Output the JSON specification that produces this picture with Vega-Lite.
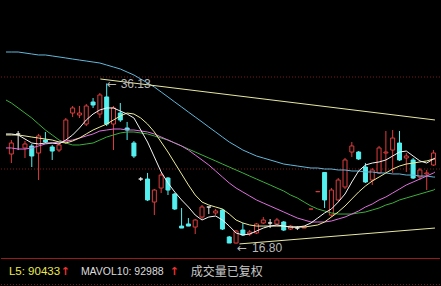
{
  "$schema": "https://vega.github.io/schema/vega-lite/v6.json",
  "width": 441,
  "height": 286,
  "autosize": {"type": "fit", "contains": "padding"},
  "padding": 0,
  "background": "#000000",
  "config": {"view": {"stroke": null}},
  "datasets": {
    "candles": [
      {"i":0,"open":27.61,"close":28.94,"high":29.30,"low":26.52},
      {"i":1,"open":30.03,"close":30.03,"high":30.39,"low":28.09},
      {"i":2,"open":28.34,"close":28.82,"high":29.18,"low":27.13},
      {"i":3,"open":28.58,"close":27.37,"high":28.82,"low":26.04},
      {"i":4,"open":27.73,"close":29.79,"high":30.03,"low":24.47},
      {"i":5,"open":29.30,"close":29.06,"high":30.27,"low":28.94},
      {"i":6,"open":28.46,"close":27.97,"high":28.70,"low":26.89},
      {"i":7,"open":28.09,"close":28.70,"high":28.94,"low":27.85},
      {"i":8,"open":29.06,"close":31.72,"high":31.96,"low":28.82},
      {"i":9,"open":32.56,"close":33.17,"high":33.41,"low":32.08},
      {"i":10,"open":32.32,"close":32.56,"high":33.41,"low":31.96},
      {"i":11,"open":31.23,"close":33.41,"high":33.65,"low":30.99},
      {"i":12,"open":33.89,"close":33.53,"high":34.37,"low":33.17},
      {"i":13,"open":32.44,"close":34.74,"high":34.98,"low":31.96},
      {"i":14,"open":34.50,"close":31.23,"high":36.13,"low":30.99},
      {"i":15,"open":31.23,"close":33.17,"high":33.41,"low":28.09},
      {"i":16,"open":32.56,"close":31.72,"high":33.77,"low":31.48},
      {"i":17,"open":30.75,"close":30.51,"high":31.48,"low":29.30},
      {"i":18,"open":28.94,"close":27.37,"high":29.18,"low":27.13},
      {"i":19,"open":24.59,"close":24.59,"high":24.83,"low":24.35},
      {"i":20,"open":24.59,"close":22.06,"high":25.32,"low":21.93},
      {"i":21,"open":21.81,"close":23.26,"high":23.38,"low":20.24},
      {"i":22,"open":23.50,"close":25.07,"high":25.32,"low":22.90},
      {"i":23,"open":24.71,"close":23.26,"high":24.83,"low":22.66},
      {"i":24,"open":22.78,"close":20.97,"high":22.90,"low":20.85},
      {"i":25,"open":18.91,"close":18.67,"high":21.09,"low":18.67},
      {"i":26,"open":19.16,"close":18.91,"high":19.88,"low":18.91},
      {"i":27,"open":18.79,"close":19.64,"high":19.76,"low":17.95},
      {"i":28,"open":20.00,"close":21.21,"high":21.45,"low":19.76},
      {"i":29,"open":21.21,"close":21.21,"high":21.21,"low":20.36},
      {"i":30,"open":20.49,"close":20.73,"high":20.97,"low":20.24},
      {"i":31,"open":20.85,"close":18.55,"high":20.97,"low":18.43},
      {"i":32,"open":17.59,"close":16.86,"high":17.71,"low":16.86},
      {"i":33,"open":16.86,"close":18.31,"high":18.43,"low":16.80},
      {"i":34,"open":18.43,"close":17.83,"high":19.28,"low":17.71},
      {"i":35,"open":17.95,"close":18.19,"high":18.43,"low":17.71},
      {"i":36,"open":18.07,"close":19.16,"high":19.28,"low":17.95},
      {"i":37,"open":19.28,"close":19.64,"high":20.00,"low":19.16},
      {"i":38,"open":19.28,"close":19.28,"high":19.76,"low":18.67},
      {"i":39,"open":19.16,"close":19.64,"high":19.88,"low":19.04},
      {"i":40,"open":19.40,"close":18.43,"high":19.52,"low":18.31},
      {"i":41,"open":18.55,"close":18.91,"high":19.04,"low":18.43},
      {"i":42,"open":18.67,"close":18.67,"high":18.91,"low":18.43},
      {"i":43,"open":18.67,"close":18.79,"high":18.91,"low":18.67},
      {"i":44,"open":20.96,"close":20.97,"high":20.97,"low":20.96},
      {"i":45,"open":23.06,"close":23.07,"high":23.07,"low":23.06},
      {"i":46,"open":25.38,"close":22.06,"high":25.38,"low":21.09},
      {"i":47,"open":20.24,"close":23.26,"high":23.50,"low":20.00},
      {"i":48,"open":22.06,"close":24.47,"high":24.71,"low":21.93},
      {"i":49,"open":23.63,"close":26.89,"high":27.13,"low":23.38},
      {"i":50,"open":27.85,"close":28.58,"high":29.06,"low":27.25},
      {"i":51,"open":27.85,"close":27.01,"high":27.97,"low":26.89},
      {"i":52,"open":26.04,"close":24.23,"high":26.52,"low":24.11},
      {"i":53,"open":24.47,"close":25.68,"high":25.92,"low":23.87},
      {"i":54,"open":25.32,"close":28.34,"high":28.58,"low":25.20},
      {"i":55,"open":27.73,"close":27.85,"high":30.39,"low":25.44},
      {"i":56,"open":28.09,"close":29.54,"high":30.51,"low":25.32},
      {"i":57,"open":28.94,"close":26.89,"high":30.39,"low":26.77},
      {"i":58,"open":27.13,"close":27.37,"high":27.73,"low":25.44},
      {"i":59,"open":26.89,"close":24.71,"high":27.13,"low":24.59},
      {"i":60,"open":24.83,"close":25.68,"high":25.92,"low":24.47},
      {"i":61,"open":25.20,"close":25.32,"high":25.68,"low":23.26},
      {"i":62,"open":26.28,"close":27.73,"high":28.09,"low":26.16}
    ],
    "ma": [
      {"i":-0.79,"MA5":30.03,"MA10":29.91,"MA20":28.34,"MA30":34.13,"MA60":39.93},
      {"i":0,"MA5":30.03,"MA10":29.91,"MA20":28.34,"MA30":33.77,"MA60":39.93},
      {"i":1,"MA5":29.91,"MA10":29.91,"MA20":28.21,"MA30":33.17,"MA60":39.93},
      {"i":2,"MA5":29.42,"MA10":29.79,"MA20":28.21,"MA30":32.56,"MA60":39.81},
      {"i":3,"MA5":28.94,"MA10":29.66,"MA20":28.34,"MA30":31.96,"MA60":39.69},
      {"i":4,"MA5":28.82,"MA10":29.54,"MA20":28.58,"MA30":31.23,"MA60":39.57},
      {"i":5,"MA5":28.94,"MA10":29.42,"MA20":28.82,"MA30":30.51,"MA60":39.57},
      {"i":6,"MA5":28.94,"MA10":29.30,"MA20":28.94,"MA30":29.91,"MA60":39.45},
      {"i":7,"MA5":28.82,"MA10":29.06,"MA20":29.06,"MA30":29.30,"MA60":39.33},
      {"i":8,"MA5":29.30,"MA10":28.94,"MA20":29.18,"MA30":28.94,"MA60":39.21},
      {"i":9,"MA5":29.91,"MA10":29.18,"MA20":29.30,"MA30":28.70,"MA60":39.08},
      {"i":10,"MA5":30.75,"MA10":29.54,"MA20":29.54,"MA30":28.70,"MA60":38.96},
      {"i":11,"MA5":31.72,"MA10":30.03,"MA20":29.79,"MA30":28.82,"MA60":38.84},
      {"i":12,"MA5":32.44,"MA10":30.51,"MA20":30.03,"MA30":28.94,"MA60":38.72},
      {"i":13,"MA5":32.93,"MA10":30.87,"MA20":30.39,"MA30":29.30,"MA60":38.60},
      {"i":14,"MA5":33.17,"MA10":31.23,"MA20":30.51,"MA30":29.66,"MA60":38.36},
      {"i":15,"MA5":33.17,"MA10":31.72,"MA20":30.63,"MA30":29.91,"MA60":38.12},
      {"i":16,"MA5":32.80,"MA10":32.20,"MA20":30.63,"MA30":30.15,"MA60":37.88},
      {"i":17,"MA5":32.44,"MA10":32.56,"MA20":30.51,"MA30":30.27,"MA60":37.51},
      {"i":18,"MA5":31.96,"MA10":32.44,"MA20":30.51,"MA30":30.27,"MA60":37.15},
      {"i":19,"MA5":30.51,"MA10":31.96,"MA20":30.39,"MA30":30.15,"MA60":36.67},
      {"i":20,"MA5":29.06,"MA10":31.23,"MA20":30.27,"MA30":30.03,"MA60":36.19},
      {"i":21,"MA5":27.25,"MA10":30.27,"MA20":30.03,"MA30":29.79,"MA60":35.70},
      {"i":22,"MA5":25.44,"MA10":29.06,"MA20":29.66,"MA30":29.54,"MA60":35.10},
      {"i":23,"MA5":24.11,"MA10":27.85,"MA20":29.30,"MA30":29.30,"MA60":34.50},
      {"i":24,"MA5":23.02,"MA10":26.52,"MA20":28.94,"MA30":28.94,"MA60":33.89},
      {"i":25,"MA5":22.06,"MA10":25.20,"MA20":28.58,"MA30":28.58,"MA60":33.29},
      {"i":26,"MA5":21.21,"MA10":23.87,"MA20":28.09,"MA30":28.21,"MA60":32.68},
      {"i":27,"MA5":20.24,"MA10":22.66,"MA20":27.49,"MA30":27.85,"MA60":32.08},
      {"i":28,"MA5":19.64,"MA10":21.81,"MA20":26.89,"MA30":27.49,"MA60":31.48},
      {"i":29,"MA5":20.00,"MA10":21.45,"MA20":26.28,"MA30":27.13,"MA60":30.87},
      {"i":30,"MA5":20.12,"MA10":21.21,"MA20":25.56,"MA30":26.77,"MA60":30.27},
      {"i":31,"MA5":19.64,"MA10":20.97,"MA20":24.83,"MA30":26.40,"MA60":29.66},
      {"i":32,"MA5":18.91,"MA10":20.36,"MA20":24.11,"MA30":26.04,"MA60":29.06},
      {"i":33,"MA5":18.07,"MA10":19.64,"MA20":23.50,"MA30":25.68,"MA60":28.58},
      {"i":34,"MA5":17.83,"MA10":19.28,"MA20":23.02,"MA30":25.32,"MA60":28.09},
      {"i":35,"MA5":17.95,"MA10":19.04,"MA20":22.54,"MA30":24.95,"MA60":27.73},
      {"i":36,"MA5":18.31,"MA10":18.91,"MA20":22.06,"MA30":24.59,"MA60":27.37},
      {"i":37,"MA5":18.67,"MA10":18.91,"MA20":21.69,"MA30":24.23,"MA60":27.13},
      {"i":38,"MA5":18.91,"MA10":18.91,"MA20":21.33,"MA30":23.87,"MA60":26.89},
      {"i":39,"MA5":19.04,"MA10":18.91,"MA20":20.97,"MA30":23.50,"MA60":26.65},
      {"i":40,"MA5":18.91,"MA10":18.91,"MA20":20.61,"MA30":23.14,"MA60":26.40},
      {"i":41,"MA5":18.79,"MA10":18.79,"MA20":20.24,"MA30":22.66,"MA60":26.28},
      {"i":42,"MA5":18.79,"MA10":18.79,"MA20":19.88,"MA30":22.30,"MA60":26.16},
      {"i":43,"MA5":18.91,"MA10":18.79,"MA20":19.64,"MA30":21.81,"MA60":26.04},
      {"i":44,"MA5":19.28,"MA10":18.91,"MA20":19.40,"MA30":21.33,"MA60":25.92},
      {"i":45,"MA5":19.88,"MA10":19.04,"MA20":19.40,"MA30":20.97,"MA60":25.92},
      {"i":46,"MA5":20.49,"MA10":19.40,"MA20":19.40,"MA30":20.73,"MA60":25.80},
      {"i":47,"MA5":20.97,"MA10":20.00,"MA20":19.52,"MA30":20.49,"MA60":25.80},
      {"i":48,"MA5":21.81,"MA10":20.61,"MA20":19.76,"MA30":20.36,"MA60":25.68},
      {"i":49,"MA5":22.78,"MA10":21.33,"MA20":20.00,"MA30":20.36,"MA60":25.68},
      {"i":50,"MA5":24.23,"MA10":22.18,"MA20":20.36,"MA30":20.36,"MA60":25.56},
      {"i":51,"MA5":25.56,"MA10":23.02,"MA20":20.73,"MA30":20.49,"MA60":25.56},
      {"i":52,"MA5":26.28,"MA10":23.75,"MA20":21.21,"MA30":20.61,"MA60":25.44},
      {"i":53,"MA5":26.52,"MA10":24.35,"MA20":21.57,"MA30":20.85,"MA60":25.44},
      {"i":54,"MA5":26.65,"MA10":24.83,"MA20":22.06,"MA30":21.09,"MA60":25.32},
      {"i":55,"MA5":26.89,"MA10":25.32,"MA20":22.42,"MA30":21.45,"MA60":25.32},
      {"i":56,"MA5":27.37,"MA10":25.80,"MA20":22.90,"MA30":21.69,"MA60":25.20},
      {"i":57,"MA5":27.85,"MA10":26.16,"MA20":23.38,"MA30":22.06,"MA60":25.20},
      {"i":58,"MA5":27.97,"MA10":26.40,"MA20":23.87,"MA30":22.30,"MA60":25.07},
      {"i":59,"MA5":27.37,"MA10":26.52,"MA20":24.23,"MA30":22.54,"MA60":25.07},
      {"i":60,"MA5":26.77,"MA10":26.65,"MA20":24.59,"MA30":22.78,"MA60":24.95},
      {"i":61,"MA5":26.52,"MA10":26.77,"MA20":24.95,"MA30":23.02,"MA60":24.95},
      {"i":62,"MA5":27.01,"MA10":27.01,"MA20":25.32,"MA30":23.26,"MA60":24.83},
      {"i":62.21,"MA5":27.13,"MA10":27.01,"MA20":25.44,"MA30":23.38,"MA60":24.83}
    ],
    "trend": [
      {"seg":"resistance","i":13.07,"v":36.67},
      {"seg":"resistance","i":62.21,"v":31.72},
      {"seg":"support","i":33.5,"v":16.75},
      {"seg":"support","i":62.21,"v":18.67}
    ],
    "status": [{}]
  },
  "layer": [
    {
      "data": {"values": [{"v": 36.91}, {"v": 25.80}, {"v": 11.85}]},
      "mark": {"type": "rule", "color": "#7a1818", "strokeWidth": 1, "strokeDash": [1, 2]},
      "encoding": {
        "y": {"field": "v", "type": "quantitative", "axis": null, "scale": {"domain": [11.67, 46.21], "nice": false, "zero": false}}
      }
    },
    {
      "data": {"values": [{"v": 14.99}]},
      "mark": {"type": "rule", "color": "#9a1a1a", "strokeWidth": 1},
      "encoding": {
        "y": {"field": "v", "type": "quantitative", "axis": null, "scale": {"domain": [11.67, 46.21], "nice": false, "zero": false}}
      }
    },
    {
      "data": {"name": "candles"},
      "mark": {"type": "rule", "strokeWidth": 1},
      "encoding": {
        "x": {"field": "i", "type": "quantitative", "axis": null, "scale": {"domain": [-0.7857, 62.2143], "nice": false, "zero": false}},
        "y": {"field": "low", "type": "quantitative", "axis": null, "scale": {"domain": [11.67, 46.21], "nice": false, "zero": false}},
        "y2": {"field": "high"},
        "color": {
          "condition": [
            {"test": "datum.close > datum.open", "value": "#e03c3c"},
            {"test": "datum.close < datum.open", "value": "#54f0f0"}
          ],
          "value": "#e8e8e8"
        }
      }
    },
    {
      "data": {"name": "candles"},
      "mark": {"type": "bar", "orient": "vertical", "width": 4, "strokeWidth": 1},
      "encoding": {
        "x": {"field": "i", "type": "quantitative", "axis": null, "scale": {"domain": [-0.7857, 62.2143], "nice": false, "zero": false}},
        "y": {"field": "open", "type": "quantitative", "axis": null, "scale": {"domain": [11.67, 46.21], "nice": false, "zero": false}},
        "y2": {"field": "close"},
        "fill": {
          "condition": [
            {"test": "datum.close > datum.open", "value": "#000000"},
            {"test": "datum.close < datum.open", "value": "#54f0f0"}
          ],
          "value": "#e8e8e8"
        },
        "stroke": {
          "condition": [
            {"test": "datum.close > datum.open", "value": "#e03c3c"},
            {"test": "datum.close < datum.open", "value": "#54f0f0"}
          ],
          "value": "#e8e8e8"
        }
      }
    },
    {
      "data": {"name": "ma"},
      "transform": [{"fold": ["MA60", "MA30", "MA20", "MA10", "MA5"], "as": ["ma", "v"]}],
      "mark": {"type": "line", "strokeWidth": 1, "clip": true},
      "encoding": {
        "x": {"field": "i", "type": "quantitative", "axis": null, "scale": {"domain": [-0.7857, 62.2143], "nice": false, "zero": false}},
        "y": {"field": "v", "type": "quantitative", "axis": null, "scale": {"domain": [11.67, 46.21], "nice": false, "zero": false}},
        "color": {
          "field": "ma",
          "type": "nominal",
          "legend": null,
          "scale": {
            "domain": ["MA5", "MA10", "MA20", "MA30", "MA60"],
            "range": ["#f4f4f4", "#ecec98", "#e070e0", "#3cb03c", "#62b8dc"]
          }
        }
      }
    },
    {
      "data": {"name": "trend"},
      "mark": {"type": "line", "strokeWidth": 1, "color": "#e8e8a0", "clip": true},
      "encoding": {
        "x": {"field": "i", "type": "quantitative", "axis": null, "scale": {"domain": [-0.7857, 62.2143], "nice": false, "zero": false}},
        "y": {"field": "v", "type": "quantitative", "axis": null, "scale": {"domain": [11.67, 46.21], "nice": false, "zero": false}},
        "detail": {"field": "seg", "type": "nominal"}
      }
    },
    {
      "data": {"name": "candles"},
      "transform": [{"filter": "datum.i == 14"}],
      "layer": [
        {
          "mark": {"type": "text", "align": "left", "baseline": "middle", "dx": 0, "dy": 1, "font": "DejaVu Sans", "fontSize": 12, "color": "#b8b8b8"},
          "encoding": {
            "x": {"field": "i", "type": "quantitative", "axis": null, "scale": {"domain": [-0.7857, 62.2143], "nice": false, "zero": false}},
            "y": {"field": "high", "type": "quantitative", "axis": null, "scale": {"domain": [11.67, 46.21], "nice": false, "zero": false}},
            "text": {"value": "←"}
          }
        },
        {
          "mark": {"type": "text", "align": "left", "baseline": "middle", "dx": 14, "dy": 1, "font": "Liberation Sans", "fontSize": 12, "color": "#b8b8b8"},
          "encoding": {
            "x": {"field": "i", "type": "quantitative", "axis": null, "scale": {"domain": [-0.7857, 62.2143], "nice": false, "zero": false}},
            "y": {"field": "high", "type": "quantitative", "axis": null, "scale": {"domain": [11.67, 46.21], "nice": false, "zero": false}},
            "text": {"field": "high", "type": "quantitative", "format": ".2f"}
          }
        }
      ]
    },
    {
      "data": {"name": "candles"},
      "transform": [{"filter": "datum.i == 33"}],
      "layer": [
        {
          "mark": {"type": "text", "align": "left", "baseline": "middle", "dx": 1, "dy": 4, "font": "DejaVu Sans", "fontSize": 12, "color": "#b8b8b8"},
          "encoding": {
            "x": {"field": "i", "type": "quantitative", "axis": null, "scale": {"domain": [-0.7857, 62.2143], "nice": false, "zero": false}},
            "y": {"field": "low", "type": "quantitative", "axis": null, "scale": {"domain": [11.67, 46.21], "nice": false, "zero": false}},
            "text": {"value": "←"}
          }
        },
        {
          "mark": {"type": "text", "align": "left", "baseline": "middle", "dx": 16, "dy": 4, "font": "Liberation Sans", "fontSize": 12, "color": "#b8b8b8"},
          "encoding": {
            "x": {"field": "i", "type": "quantitative", "axis": null, "scale": {"domain": [-0.7857, 62.2143], "nice": false, "zero": false}},
            "y": {"field": "low", "type": "quantitative", "axis": null, "scale": {"domain": [11.67, 46.21], "nice": false, "zero": false}},
            "text": {"field": "low", "type": "quantitative", "format": ".2f"}
          }
        }
      ]
    },
    {
      "data": {"name": "status"},
      "mark": {"type": "text", "align": "left", "baseline": "middle", "font": "Liberation Sans", "fontSize": 11.5, "color": "#eaea50"},
      "encoding": {
        "x": {"datum": -0.357, "type": "quantitative", "scale": {"domain": [-0.7857, 62.2143], "nice": false, "zero": false}, "axis": null},
        "y": {"datum": 13.42, "type": "quantitative", "scale": {"domain": [11.67, 46.21], "nice": false, "zero": false}, "axis": null},
        "text": {"value": "L5: 90433"}
      }
    },
    {
      "data": {"name": "status"},
      "mark": {"type": "text", "align": "center", "baseline": "middle", "font": "DejaVu Sans", "fontWeight": "bold", "fontSize": 11, "color": "#f03030"},
      "encoding": {
        "x": {"datum": 7.93, "type": "quantitative", "scale": {"domain": [-0.7857, 62.2143], "nice": false, "zero": false}, "axis": null},
        "y": {"datum": 13.42, "type": "quantitative", "scale": {"domain": [11.67, 46.21], "nice": false, "zero": false}, "axis": null},
        "text": {"value": "↑"}
      }
    },
    {
      "data": {"name": "status"},
      "mark": {"type": "text", "align": "left", "baseline": "middle", "font": "Liberation Sans", "fontSize": 10.5, "color": "#dcdcdc"},
      "encoding": {
        "x": {"datum": 10.21, "type": "quantitative", "scale": {"domain": [-0.7857, 62.2143], "nice": false, "zero": false}, "axis": null},
        "y": {"datum": 13.42, "type": "quantitative", "scale": {"domain": [11.67, 46.21], "nice": false, "zero": false}, "axis": null},
        "text": {"value": "MAVOL10: 92988"}
      }
    },
    {
      "data": {"name": "status"},
      "mark": {"type": "text", "align": "center", "baseline": "middle", "font": "DejaVu Sans", "fontWeight": "bold", "fontSize": 11, "color": "#f03030"},
      "encoding": {
        "x": {"datum": 23.93, "type": "quantitative", "scale": {"domain": [-0.7857, 62.2143], "nice": false, "zero": false}, "axis": null},
        "y": {"datum": 13.42, "type": "quantitative", "scale": {"domain": [11.67, 46.21], "nice": false, "zero": false}, "axis": null},
        "text": {"value": "↑"}
      }
    },
    {
      "data": {"name": "status"},
      "mark": {"type": "text", "align": "left", "baseline": "middle", "font": "Noto Sans CJK SC", "fontSize": 12, "color": "#c8c8c8"},
      "encoding": {
        "x": {"datum": 26.36, "type": "quantitative", "scale": {"domain": [-0.7857, 62.2143], "nice": false, "zero": false}, "axis": null},
        "y": {"datum": 13.42, "type": "quantitative", "scale": {"domain": [11.67, 46.21], "nice": false, "zero": false}, "axis": null},
        "text": {"value": "成交量已复权"}
      }
    }
  ]
}
